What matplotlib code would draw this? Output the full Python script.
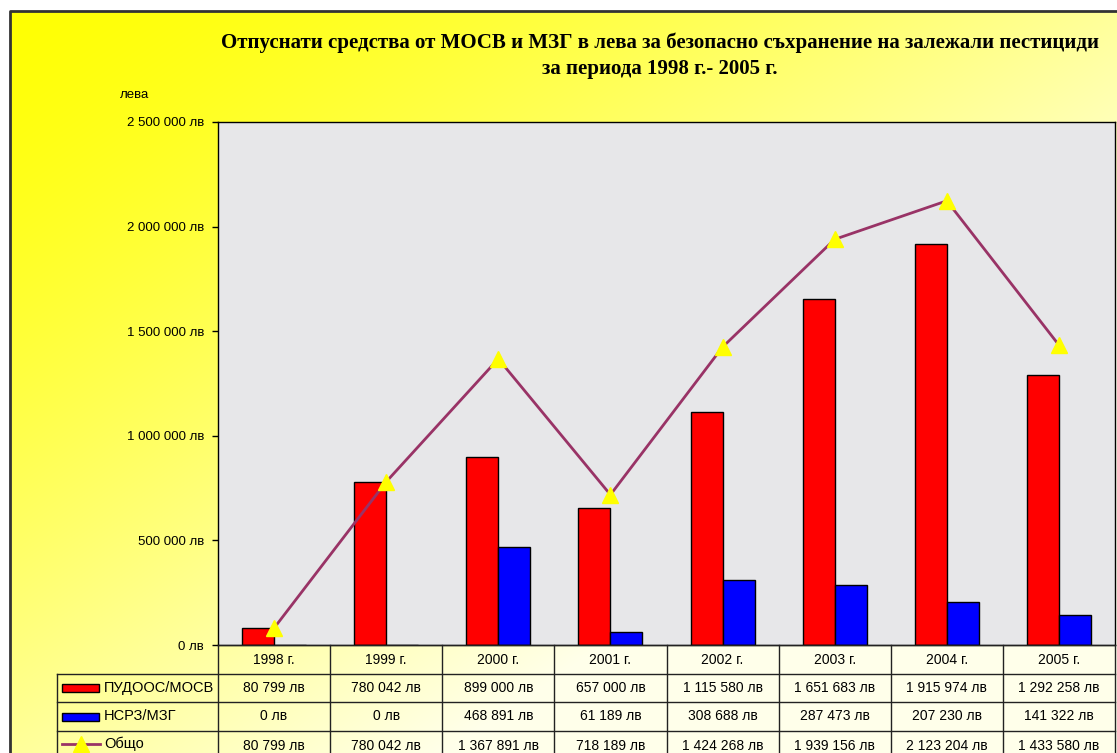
import numpy as np
import matplotlib.pyplot as plt
from matplotlib.patches import Rectangle
from matplotlib.lines import Line2D

plt.rcParams['font.family'] = ['Liberation Sans', 'DejaVu Sans']

years = ['1998 г.', '1999 г.', '2000 г.', '2001 г.', '2002 г.', '2003 г.', '2004 г.', '2005 г.']
pudoos = [80799, 780042, 899000, 657000, 1115580, 1651683, 1915974, 1292258]
nsrz = [0, 0, 468891, 61189, 308688, 287473, 207230, 141322]
total = [80799, 780042, 1367891, 718189, 1424268, 1939156, 2123204, 1433580]
series_names = ['ПУДООС/МОСВ', 'НСРЗ/МЗГ', 'Общо']

title = ('Отпуснати средства от МОСВ и МЗГ в лева за безопасно съхранение на залежали пестициди\n'
         'за периода 1998 г.- 2005 г.')


def fmt_lv(v):
    return '{:,}'.format(int(v)).replace(',', ' ') + ' лв'


W, H = 1117, 753
fig = plt.figure(figsize=(W / 100, H / 100), dpi=100)

# background gradient (yellow -> pale cream)
bg = fig.add_axes([0, 0, 1, 1], zorder=-2)
xx, yy = np.meshgrid(np.linspace(0, 1, 300), np.linspace(0, 1, 200))
t = np.clip((xx + yy) / 1.4, 0, 1)
b = 0.92 * t ** 1.3
img = np.dstack([np.ones_like(b), np.ones_like(b), b])
bg.imshow(img, extent=[0, W, H, 0], aspect='auto', interpolation='bilinear')
bg.set_xlim(0, W)
bg.set_ylim(H, 0)
bg.axis('off')
# white margin outside the frame
bg.add_patch(Rectangle((0, 0), W, 10, color='white', zorder=3))
bg.add_patch(Rectangle((0, 0), 9, H, color='white', zorder=3))
bg.plot([9.5, 9.5, W], [H, 10.5, 10.5], color='#333333', lw=2, zorder=4)

# main chart axes
x0, x1, ytop, ybot = 218, 1115, 122, 645
ax = fig.add_axes([x0 / W, 1 - ybot / H, (x1 - x0) / W, (ybot - ytop) / H])
ax.set_facecolor('#e7e7e9')
x = np.arange(len(years))
bw = 0.285
ax.bar(x - bw / 2, pudoos, bw, color='#ff0000', edgecolor='black', linewidth=1, zorder=2)
ax.bar(x + bw / 2, nsrz, bw, color='#0000ff', edgecolor='black', linewidth=1, zorder=2)
ax.plot(x, total, color='#993366', lw=2, marker='^', markersize=11,
        markerfacecolor='#ffff00', markeredgecolor='#ffff00', zorder=3)
ax.set_xlim(-0.5, len(years) - 0.5)
ax.set_ylim(0, 2500000)
ax.set_yticks(np.arange(0, 2500001, 500000))
ax.set_yticklabels([fmt_lv(v) for v in np.arange(0, 2500001, 500000)])
ax.set_xticks([])
ax.tick_params(axis='y', direction='out', length=4, width=1, labelsize=9.5, pad=6)
for s in ax.spines.values():
    s.set_color('black')
    s.set_linewidth(1)

# title and axis label
fig.text(660 / W, 1 - 56 / H, title, ha='center', va='center', family='Liberation Serif',
         fontweight='bold', fontsize=15, linespacing=1.4)
fig.text(120 / W, 1 - 95 / H, 'лева', ha='left', va='center', fontsize=9.5)

# data table
tb = fig.add_axes([0, 0, 1, 1], zorder=5)
tb.set_xlim(0, W)
tb.set_ylim(H, 0)
tb.axis('off')
tb.patch.set_alpha(0)
colw = (x1 - x0) / len(years)
rows = [645, 674, 702, 731, 760]
lx = 57
lc = '#222222'
# horizontal lines
tb.plot([x0, x1], [rows[0], rows[0]], color=lc, lw=1)
for r in rows[1:4]:
    tb.plot([lx, x1], [r, r], color=lc, lw=1)
# vertical lines
for i in range(len(years) + 1):
    xv = x0 + i * colw
    tb.plot([xv, xv], [rows[0], H], color=lc, lw=1)
tb.plot([lx, lx], [rows[1], H], color=lc, lw=1)

for i, yl in enumerate(years):
    cx = x0 + (i + 0.5) * colw
    tb.text(cx, (rows[0] + rows[1]) / 2, yl, ha='center', va='center', fontsize=10)
    for j, vals in enumerate([pudoos, nsrz, total]):
        tb.text(cx, (rows[j + 1] + rows[j + 2]) / 2, fmt_lv(vals[i]),
                ha='center', va='center', fontsize=10)

# legend keys in first column
for j, (name, col) in enumerate(zip(series_names[:2], ['#ff0000', '#0000ff'])):
    yc = (rows[j + 1] + rows[j + 2]) / 2
    tb.add_patch(Rectangle((62, yc - 4), 37, 8, facecolor=col, edgecolor='black', lw=1))
    tb.text(104, yc, name, ha='left', va='center', fontsize=10.5)
yc = (rows[3] + rows[4]) / 2 - 2
tb.add_line(Line2D([62, 100], [yc, yc], color='#993366', lw=2))
tb.plot([81], [yc], marker='^', markersize=11, color='#ffff00')
tb.text(104, yc, series_names[2], ha='left', va='center', fontsize=10.5)

fig.savefig('out.png', dpi=100)
